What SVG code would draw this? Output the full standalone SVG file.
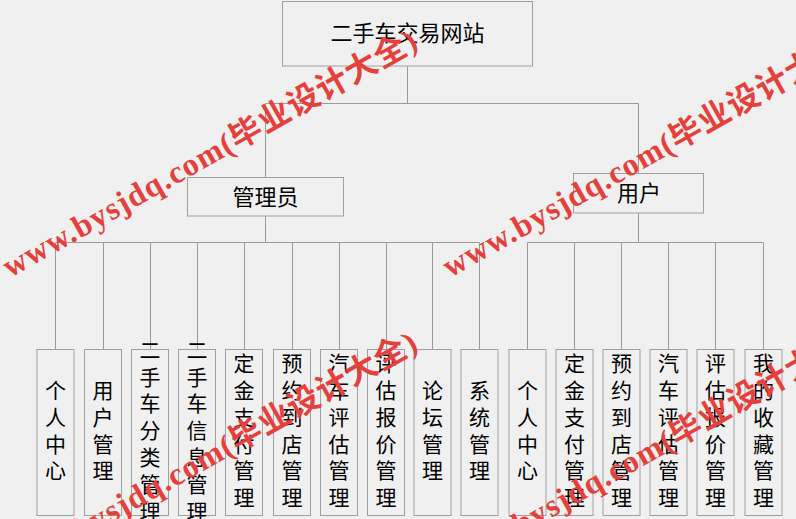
<svg xmlns="http://www.w3.org/2000/svg" width="796" height="519" viewBox="0 0 796 519">
<style>
.bg{fill:#f0f0f0}
.box{fill:#f0f0f0;stroke:#a0a0a0;stroke-width:1}
.ln{stroke:#9a9a9a;stroke-width:1;fill:none}
.t{font-family:"Noto Sans CJK SC","Noto Sans",sans-serif;fill:#000;text-anchor:middle;dominant-baseline:central}
.h{font-size:22px}
.v{font-size:21px}
.wm{font-family:"Liberation Serif","Noto Sans CJK SC",serif;font-weight:bold;font-size:32px;fill:#e5403c}
</style>
<rect class="bg" x="0" y="0" width="796" height="519"/>
<g id="connectors">
<path class="ln" d="M407.5,66V103.5M265.5,103.5H638.5M265.5,103.5V177M638.5,103.5V173"/>
<path class="ln" d="M265.5,216V242.5M55.5,242.5H479.5M638.5,213V242.5M527.5,242.5H763.5"/>
<path class="ln" d="M55.5,242.5V349M103.5,242.5V349M150.5,242.5V349M197.5,242.5V349M244.5,242.5V349M292.5,242.5V349M339.5,242.5V349M386.5,242.5V349M432.5,242.5V349M479.5,242.5V349"/>
<path class="ln" d="M527.5,242.5V349M574.5,242.5V349M621.5,242.5V349M668.5,242.5V349M715.5,242.5V349M763.5,242.5V349"/>
</g>
<g id="root"><rect class="box" x="282.5" y="1.5" width="250" height="64.5"/><text class="t h" x="407.5" y="31">二手车交易网站</text></g>
<g id="admin"><rect class="box" x="187.5" y="177.5" width="156" height="38.5"/><text class="t h" x="265.5" y="195">管理员</text></g>
<g id="user"><rect class="box" x="573.5" y="173.5" width="130" height="39.5"/><text class="t h" x="639" y="191">用户</text></g>
<g id="a1"><rect class="box" x="37" y="349.5" width="37" height="166"/><text class="t v"><tspan x="55.5" y="389">个</tspan><tspan x="55.5" y="415.8">人</tspan><tspan x="55.5" y="442.6">中</tspan><tspan x="55.5" y="469.4">心</tspan></text></g>
<g id="a2"><rect class="box" x="84.5" y="349.5" width="37" height="166"/><text class="t v"><tspan x="103" y="389">用</tspan><tspan x="103" y="415.8">户</tspan><tspan x="103" y="442.6">管</tspan><tspan x="103" y="469.4">理</tspan></text></g>
<g id="a3"><rect class="box" x="131.5" y="349.5" width="37" height="166"/><text class="t v"><tspan x="150" y="348.8">二</tspan><tspan x="150" y="375.6">手</tspan><tspan x="150" y="402.4">车</tspan><tspan x="150" y="429.2">分</tspan><tspan x="150" y="456">类</tspan><tspan x="150" y="482.8">管</tspan><tspan x="150" y="509.6">理</tspan></text></g>
<g id="a4"><rect class="box" x="178.5" y="349.5" width="37" height="166"/><text class="t v"><tspan x="197" y="348.8">二</tspan><tspan x="197" y="375.6">手</tspan><tspan x="197" y="402.4">车</tspan><tspan x="197" y="429.2">信</tspan><tspan x="197" y="456">息</tspan><tspan x="197" y="482.8">管</tspan><tspan x="197" y="509.6">理</tspan></text></g>
<g id="a5"><rect class="box" x="225.5" y="349.5" width="37" height="166"/><text class="t v"><tspan x="244" y="362.2">定</tspan><tspan x="244" y="389">金</tspan><tspan x="244" y="415.8">支</tspan><tspan x="244" y="442.6">付</tspan><tspan x="244" y="469.4">管</tspan><tspan x="244" y="496.2">理</tspan></text></g>
<g id="a6"><rect class="box" x="273.5" y="349.5" width="37" height="166"/><text class="t v"><tspan x="292" y="362.2">预</tspan><tspan x="292" y="389">约</tspan><tspan x="292" y="415.8">到</tspan><tspan x="292" y="442.6">店</tspan><tspan x="292" y="469.4">管</tspan><tspan x="292" y="496.2">理</tspan></text></g>
<g id="a7"><rect class="box" x="320.5" y="349.5" width="37" height="166"/><text class="t v"><tspan x="339" y="362.2">汽</tspan><tspan x="339" y="389">车</tspan><tspan x="339" y="415.8">评</tspan><tspan x="339" y="442.6">估</tspan><tspan x="339" y="469.4">管</tspan><tspan x="339" y="496.2">理</tspan></text></g>
<g id="a8"><rect class="box" x="367.5" y="349.5" width="37" height="166"/><text class="t v"><tspan x="386" y="362.2">评</tspan><tspan x="386" y="389">估</tspan><tspan x="386" y="415.8">报</tspan><tspan x="386" y="442.6">价</tspan><tspan x="386" y="469.4">管</tspan><tspan x="386" y="496.2">理</tspan></text></g>
<g id="a9"><rect class="box" x="414" y="349.5" width="37" height="166"/><text class="t v"><tspan x="432.5" y="389">论</tspan><tspan x="432.5" y="415.8">坛</tspan><tspan x="432.5" y="442.6">管</tspan><tspan x="432.5" y="469.4">理</tspan></text></g>
<g id="a10"><rect class="box" x="461" y="349.5" width="37" height="166"/><text class="t v"><tspan x="479.5" y="389">系</tspan><tspan x="479.5" y="415.8">统</tspan><tspan x="479.5" y="442.6">管</tspan><tspan x="479.5" y="469.4">理</tspan></text></g>
<g id="u1"><rect class="box" x="509" y="349.5" width="37" height="166"/><text class="t v"><tspan x="527.5" y="389">个</tspan><tspan x="527.5" y="415.8">人</tspan><tspan x="527.5" y="442.6">中</tspan><tspan x="527.5" y="469.4">心</tspan></text></g>
<g id="u2"><rect class="box" x="556" y="349.5" width="37" height="166"/><text class="t v"><tspan x="574.5" y="362.2">定</tspan><tspan x="574.5" y="389">金</tspan><tspan x="574.5" y="415.8">支</tspan><tspan x="574.5" y="442.6">付</tspan><tspan x="574.5" y="469.4">管</tspan><tspan x="574.5" y="496.2">理</tspan></text></g>
<g id="u3"><rect class="box" x="603" y="349.5" width="37" height="166"/><text class="t v"><tspan x="621.5" y="362.2">预</tspan><tspan x="621.5" y="389">约</tspan><tspan x="621.5" y="415.8">到</tspan><tspan x="621.5" y="442.6">店</tspan><tspan x="621.5" y="469.4">管</tspan><tspan x="621.5" y="496.2">理</tspan></text></g>
<g id="u4"><rect class="box" x="650" y="349.5" width="37" height="166"/><text class="t v"><tspan x="668.5" y="362.2">汽</tspan><tspan x="668.5" y="389">车</tspan><tspan x="668.5" y="415.8">评</tspan><tspan x="668.5" y="442.6">估</tspan><tspan x="668.5" y="469.4">管</tspan><tspan x="668.5" y="496.2">理</tspan></text></g>
<g id="u5"><rect class="box" x="697" y="349.5" width="37" height="166"/><text class="t v"><tspan x="715.5" y="362.2">评</tspan><tspan x="715.5" y="389">估</tspan><tspan x="715.5" y="415.8">报</tspan><tspan x="715.5" y="442.6">价</tspan><tspan x="715.5" y="469.4">管</tspan><tspan x="715.5" y="496.2">理</tspan></text></g>
<g id="u6"><rect class="box" x="745" y="349.5" width="37" height="166"/><text class="t v"><tspan x="763.5" y="362.2">我</tspan><tspan x="763.5" y="389">的</tspan><tspan x="763.5" y="415.8">收</tspan><tspan x="763.5" y="442.6">藏</tspan><tspan x="763.5" y="469.4">管</tspan><tspan x="763.5" y="496.2">理</tspan></text></g>
<g id="watermark">
<text class="wm" transform="translate(10,278) rotate(-29.4)" textLength="470" lengthAdjust="spacing">www.bysjdq.com(毕业设计大全)</text>
<text class="wm" transform="translate(450,278) rotate(-29.4)" textLength="470" lengthAdjust="spacing">www.bysjdq.com(毕业设计大全)</text>
<text class="wm" transform="translate(10,580) rotate(-29.4)" textLength="470" lengthAdjust="spacing">www.bysjdq.com(毕业设计大全)</text>
<text class="wm" transform="translate(450,575) rotate(-29.4)" textLength="470" lengthAdjust="spacing">www.bysjdq.com(毕业设计大全)</text>
</g>
</svg>
